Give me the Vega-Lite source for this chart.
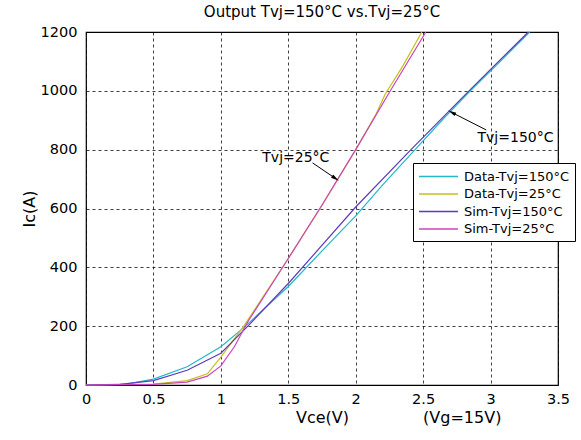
{
  "$schema": "https://vega.github.io/schema/vega-lite/v6.json",
  "width": 472,
  "height": 353,
  "autosize": "none",
  "padding": {"left": 86, "top": 32, "right": 23, "bottom": 55},
  "title": {"text": "Output Tvj=150°C vs.Tvj=25°C", "font": "DejaVu Sans", "fontSize": 15, "fontWeight": "normal", "offset": 4, "color": "#000"},
  "config": {
    "view": {"stroke": "#000", "strokeWidth": 1.2},
    "axis": {"labelFont": "DejaVu Sans", "labelFontSize": 14.5, "labelColor": "#000", "titleFont": "DejaVu Sans", "titleFontSize": 16, "titleFontWeight": "normal", "titleColor": "#000", "grid": true, "gridColor": "#000", "gridDash": [3, 3], "gridOpacity": 0.75, "domain": false, "ticks": false}
  },
  "datasets": {
    "curves": [
      {"s": "Data-Tvj=150°C", "v": 0, "i": 0},
      {"s": "Data-Tvj=150°C", "v": 0.3, "i": 3},
      {"s": "Data-Tvj=150°C", "v": 0.5, "i": 20},
      {"s": "Data-Tvj=150°C", "v": 0.75, "i": 62},
      {"s": "Data-Tvj=150°C", "v": 1.0, "i": 130},
      {"s": "Data-Tvj=150°C", "v": 1.17, "i": 195},
      {"s": "Data-Tvj=150°C", "v": 1.5, "i": 335},
      {"s": "Data-Tvj=150°C", "v": 1.8, "i": 480},
      {"s": "Data-Tvj=150°C", "v": 2.0, "i": 575},
      {"s": "Data-Tvj=150°C", "v": 2.2, "i": 680},
      {"s": "Data-Tvj=150°C", "v": 2.44, "i": 800},
      {"s": "Data-Tvj=150°C", "v": 2.65, "i": 905},
      {"s": "Data-Tvj=150°C", "v": 2.85, "i": 1000},
      {"s": "Data-Tvj=150°C", "v": 3.05, "i": 1090},
      {"s": "Data-Tvj=150°C", "v": 3.29, "i": 1200},
      {"s": "Data-Tvj=25°C", "v": 0, "i": 0},
      {"s": "Data-Tvj=25°C", "v": 0.5, "i": 3},
      {"s": "Data-Tvj=25°C", "v": 0.75, "i": 15},
      {"s": "Data-Tvj=25°C", "v": 0.9, "i": 38},
      {"s": "Data-Tvj=25°C", "v": 1.0, "i": 95},
      {"s": "Data-Tvj=25°C", "v": 1.17, "i": 200},
      {"s": "Data-Tvj=25°C", "v": 1.5, "i": 430},
      {"s": "Data-Tvj=25°C", "v": 1.75, "i": 610},
      {"s": "Data-Tvj=25°C", "v": 2.0, "i": 800},
      {"s": "Data-Tvj=25°C", "v": 2.15, "i": 920},
      {"s": "Data-Tvj=25°C", "v": 2.22, "i": 990},
      {"s": "Data-Tvj=25°C", "v": 2.35, "i": 1085},
      {"s": "Data-Tvj=25°C", "v": 2.49, "i": 1200},
      {"s": "Sim-Tvj=150°C", "v": 0, "i": 0},
      {"s": "Sim-Tvj=150°C", "v": 0.25, "i": 2},
      {"s": "Sim-Tvj=150°C", "v": 0.5, "i": 15},
      {"s": "Sim-Tvj=150°C", "v": 0.75, "i": 50},
      {"s": "Sim-Tvj=150°C", "v": 1.0, "i": 108},
      {"s": "Sim-Tvj=150°C", "v": 1.2, "i": 200},
      {"s": "Sim-Tvj=150°C", "v": 1.5, "i": 345},
      {"s": "Sim-Tvj=150°C", "v": 2.0, "i": 605},
      {"s": "Sim-Tvj=150°C", "v": 2.41, "i": 800},
      {"s": "Sim-Tvj=150°C", "v": 2.84, "i": 1000},
      {"s": "Sim-Tvj=150°C", "v": 3.28, "i": 1200},
      {"s": "Sim-Tvj=25°C", "v": 0, "i": 0},
      {"s": "Sim-Tvj=25°C", "v": 0.5, "i": 2},
      {"s": "Sim-Tvj=25°C", "v": 0.75, "i": 10},
      {"s": "Sim-Tvj=25°C", "v": 0.9, "i": 30},
      {"s": "Sim-Tvj=25°C", "v": 1.0, "i": 65},
      {"s": "Sim-Tvj=25°C", "v": 1.1, "i": 130},
      {"s": "Sim-Tvj=25°C", "v": 1.2, "i": 215},
      {"s": "Sim-Tvj=25°C", "v": 1.5, "i": 430},
      {"s": "Sim-Tvj=25°C", "v": 1.75, "i": 612},
      {"s": "Sim-Tvj=25°C", "v": 2.0, "i": 800},
      {"s": "Sim-Tvj=25°C", "v": 2.25, "i": 995},
      {"s": "Sim-Tvj=25°C", "v": 2.52, "i": 1200}
    ],
    "notes": [
      {"t": "Tvj=25°C", "v": 1.556, "i": 772, "f": 14},
      {"t": "Tvj=150°C", "v": 3.185, "i": 840, "f": 14},
      {"t": "(Vg=15V)", "v": 2.79, "i": -112, "f": 16}
    ],
    "arrows": [
      {"v": 1.68, "i": 755, "v2": 1.844, "i2": 704, "a": 124},
      {"v": 2.968, "i": 867, "v2": 2.719, "i2": 925, "a": 297}
    ]
  },
  "layer": [
    {
      "data": {"name": "curves"},
      "mark": {"type": "line", "strokeWidth": 1.2},
      "encoding": {
        "x": {"field": "v", "type": "quantitative", "scale": {"domain": [0, 3.5], "nice": false}, "axis": {"values": [0, 0.5, 1, 1.5, 2, 2.5, 3, 3.5], "format": "~g", "title": "Vce(V)", "labelPadding": 7, "titlePadding": 4, "labelFlush": false}},
        "y": {"field": "i", "type": "quantitative", "scale": {"domain": [0, 1200], "nice": false}, "axis": {"values": [0, 200, 400, 600, 800, 1000, 1200], "format": "d", "title": "Ic(A)", "labelPadding": 9, "titlePadding": 3, "labelFlush": false}},
        "color": {"field": "s", "type": "nominal", "sort": ["Data-Tvj=150°C", "Data-Tvj=25°C", "Sim-Tvj=150°C", "Sim-Tvj=25°C"],
          "scale": {"domain": ["Data-Tvj=150°C", "Data-Tvj=25°C", "Sim-Tvj=150°C", "Sim-Tvj=25°C"], "range": ["#22b8c9", "#c4c01c", "#5a3dbd", "#cc45bf"]},
          "legend": {"title": null, "orient": "none", "legendX": 327, "legendY": 131, "fillColor": "#fff", "strokeColor": "#000", "padding": 5, "labelFont": "DejaVu Sans", "labelFontSize": 13, "labelColor": "#000", "symbolType": "M-2.6,0H2.6", "symbolSize": 225, "symbolOffset": 12, "labelOffset": 17, "symbolStrokeWidth": 1.5, "rowPadding": 1.5}},
        "order": {"field": "v", "type": "quantitative"}
      }
    },
    {
      "data": {"name": "notes"},
      "mark": {"type": "text", "font": "DejaVu Sans", "color": "#000"},
      "encoding": {
        "x": {"field": "v", "type": "quantitative"},
        "y": {"field": "i", "type": "quantitative"},
        "text": {"field": "t"},
        "size": {"field": "f", "type": "quantitative", "scale": null}
      }
    },
    {
      "data": {"name": "arrows"},
      "mark": {"type": "rule", "color": "#000", "strokeWidth": 1},
      "encoding": {
        "x": {"field": "v", "type": "quantitative"},
        "y": {"field": "i", "type": "quantitative"},
        "x2": {"field": "v2"},
        "y2": {"field": "i2"}
      }
    },
    {
      "data": {"name": "arrows"},
      "mark": {"type": "point", "shape": "M-0.6,1L0,-1.6L0.6,1Z", "filled": true, "color": "#000", "size": 40, "opacity": 1},
      "encoding": {
        "x": {"field": "v2", "type": "quantitative"},
        "y": {"field": "i2", "type": "quantitative"},
        "angle": {"field": "a", "type": "quantitative", "scale": null}
      }
    }
  ]
}
